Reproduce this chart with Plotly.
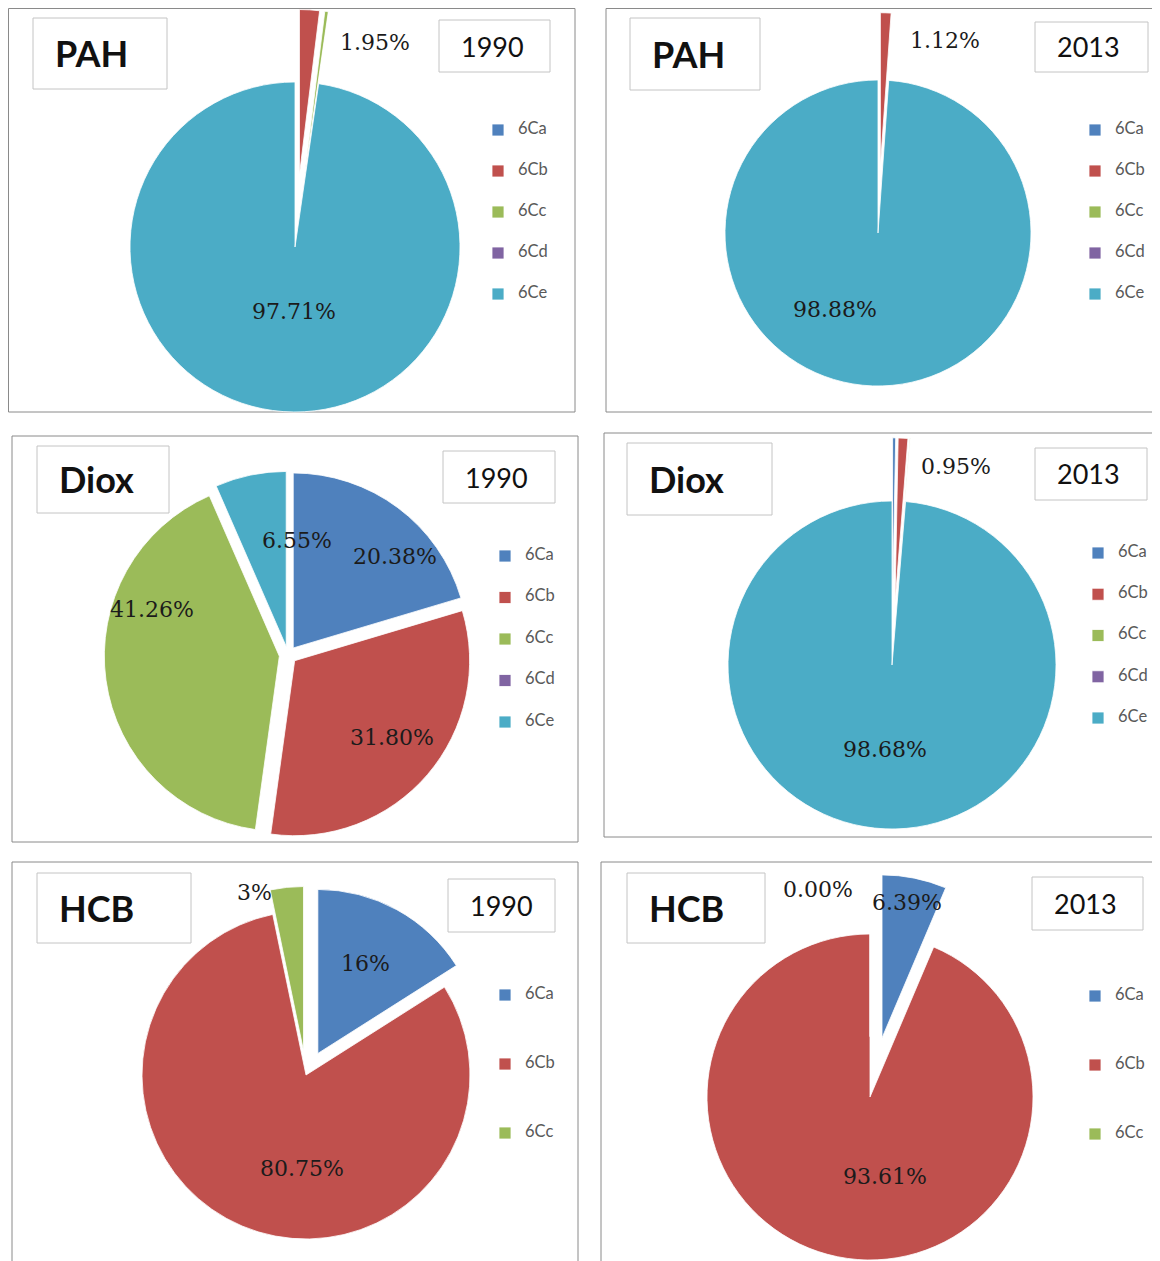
import plotly.graph_objects as go

# ---------------- data ----------------
CATS5 = ["6Ca", "6Cb", "6Cc", "6Cd", "6Ce"]
CATS3 = ["6Ca", "6Cb", "6Cc"]
COLORS = ["#4F81BD", "#C0504D", "#9BBB59", "#8064A2", "#4BACC6"]

pah_1990 = [0.00, 1.95, 0.34, 0.00, 97.71]
pah_2013 = [0.00, 1.12, 0.00, 0.00, 98.88]
diox_1990 = [20.38, 31.80, 41.26, 0.00, 6.55]
diox_2013 = [0.30, 0.95, 0.07, 0.00, 98.68]
hcb_1990 = [16.00, 80.75, 3.25]
hcb_2013 = [6.39, 93.61, 0.00]

pah_1990_text = ["", "1.95%", "", "", "97.71%"]
pah_2013_text = ["", "1.12%", "", "", "98.88%"]
diox_1990_text = ["20.38%", "31.80%", "41.26%", "", "6.55%"]
diox_2013_text = ["", "0.95%", "", "", "98.68%"]
hcb_1990_text = ["16%", "80.75%", "3%"]
hcb_2013_text = ["6.39%", "93.61%", "0.00%"]

# ---------------- layout geometry (page pixels) ----------------
W, H = 1160, 1330
OFF = 8  # page offset of the figure


def X(px):
    return (px - OFF) / W


def Y(py):
    return 1 - (py - OFF) / H


PANELS = [
    dict(title="PAH", year="1990", values=pah_1990, cats=CATS5, text=pah_1990_text,
         pull=[0.44, 0.44, 0.44, 0.44, 0.0], center=(295, 247), r=165,
         border=(8.5, 8.5, 575, 412), tbox=(33, 18, 167, 89), ybox=(439, 20, 550, 72),
         leg=(518, 130, 41), lab=[None, (375, 42), None, None, (294, 311)]),
    dict(title="PAH", year="2013", values=pah_2013, cats=CATS5, text=pah_2013_text,
         pull=[0.44, 0.44, 0.44, 0.44, 0.0], center=(878, 233), r=153,
         border=(606, 8.5, 1175, 412), tbox=(630, 18, 760, 90), ybox=(1035, 22, 1148, 72),
         leg=(1115, 130, 41), lab=[None, (945, 40), None, None, (835, 310)]),
    dict(title="Diox", year="1990", values=diox_1990, cats=CATS5, text=diox_1990_text,
         pull=[0.05, 0.05, 0.05, 0.05, 0.05], center=(288, 655), r=175,
         border=(12, 436, 578, 842), tbox=(37, 446, 169, 513), ybox=(443, 451, 555, 503),
         leg=(525, 556, 41.5), lab=[(395, 556), (392, 737), (152, 609), None, (297, 540)]),
    dict(title="Diox", year="2013", values=diox_2013, cats=CATS5, text=diox_2013_text,
         pull=[0.385, 0.385, 0.385, 0.385, 0.0], center=(892, 665), r=164,
         border=(604, 433, 1175, 837), tbox=(627, 443, 772, 515), ybox=(1035, 448, 1147, 500),
         leg=(1118, 553, 41.25), lab=[None, (956, 467), None, None, (885, 749)]),
    dict(title="HCB", year="1990", values=hcb_1990, cats=CATS3, text=hcb_1990_text,
         pull=[0.15, 0.0, 0.15], center=(306, 1075), r=164,
         border=(12, 862, 578, 1300), tbox=(37, 873, 191, 943), ybox=(448, 879, 555, 932),
         leg=(525, 995, 69), lab=[(365, 963), (302, 1168), (254, 892)]),
    dict(title="HCB", year="2013", values=hcb_2013, cats=CATS3, text=hcb_2013_text,
         pull=[0.37, 0.0, 0.37], center=(870, 1097), r=163,
         border=(601, 862, 1175, 1300), tbox=(627, 873, 765, 943), ybox=(1032, 877, 1143, 930),
         leg=(1115, 996, 69), lab=[(907, 902), (885, 1176), (818, 889)]),
]

LEG_VISIBLE_SIZE = 16.5


def legend_label(cat, pad):
    core = f"<span style='font-size:{LEG_VISIBLE_SIZE}px'>{cat}</span>"
    return "&nbsp;<br>" * pad + core + "<br>&nbsp;" * pad


fig = go.Figure()
shapes = []
annotations = []
layout_legends = {}

for i, p in enumerate(PANELS):
    leg_name = "legend" if i == 0 else f"legend{i + 1}"
    n = len(p["cats"])
    pad = 1 if n == 5 else 2
    lines = 2 * pad + 1
    text_x, first_y, pitch = p["leg"]
    leg_font = (pitch - 3) / lines / 1.3

    cx, cy = p["center"]
    s = p["r"] * (1 + max(p["pull"]))
    fig.add_trace(go.Pie(
        labels=[legend_label(c, pad) for c in p["cats"]],
        values=p["values"],
        sort=False,
        direction="clockwise",
        rotation=0,
        pull=p["pull"],
        marker=dict(colors=COLORS[:n], line=dict(color="white", width=0.8)),
        textinfo="none",
        hoverinfo="percent",
        domain=dict(x=[X(cx - s), X(cx + s)], y=[Y(cy + s), Y(cy - s)]),
        legend=leg_name,
        legendgroup=f"panel{i}",
        showlegend=True,
    ))

    layout_legends[leg_name] = dict(
        x=X(text_x - 40), y=Y(first_y - pitch / 2 - 5),
        xanchor="left", yanchor="top",
        bgcolor="rgba(0,0,0,0)", borderwidth=0,
        font=dict(family="Lato", size=leg_font, color="#595959"),
        valign="middle", traceorder="normal", tracegroupgap=0,
    )

    # panel border
    bx0, by0, bx1, by1 = p["border"]
    shapes.append(dict(type="rect", xref="paper", yref="paper", layer="below",
                       x0=X(bx0), x1=X(bx1), y0=Y(by1), y1=Y(by0),
                       line=dict(color="#8a8a8a", width=1), fillcolor="rgba(0,0,0,0)"))
    # title box and year box
    for box, txt, fnt in [(p["tbox"], p["title"], dict(family="Lato", size=36, color="#111111", weight="bold")),
                          (p["ybox"], p["year"], dict(family="Lato", size=27, color="#111111"))]:
        x0, y0, x1, y1 = box
        shapes.append(dict(type="rect", xref="paper", yref="paper", layer="below",
                           x0=X(x0), x1=X(x1), y0=Y(y1), y1=Y(y0),
                           line=dict(color="#c4c4c4", width=1), fillcolor="white"))
        annotations.append(dict(xref="paper", yref="paper", x=X(x0 + 20), y=Y((y0 + y1) / 2),
                                text=txt, showarrow=False, xanchor="left", yanchor="middle",
                                font=fnt))
    # data labels
    for t, pos in zip(p["text"], p["lab"]):
        if not t or pos is None:
            continue
        annotations.append(dict(xref="paper", yref="paper", x=X(pos[0]), y=Y(pos[1]),
                                text=t, showarrow=False, xanchor="center", yanchor="middle",
                                font=dict(family="DejaVu Serif", size=22, color="#1b1b1b")))

fig.update_layout(
    width=W, height=H,
    margin=dict(l=0, r=0, t=0, b=0),
    paper_bgcolor="white", plot_bgcolor="white",
    shapes=shapes, annotations=annotations,
    **layout_legends,
)

fig.write_html("out.html")
